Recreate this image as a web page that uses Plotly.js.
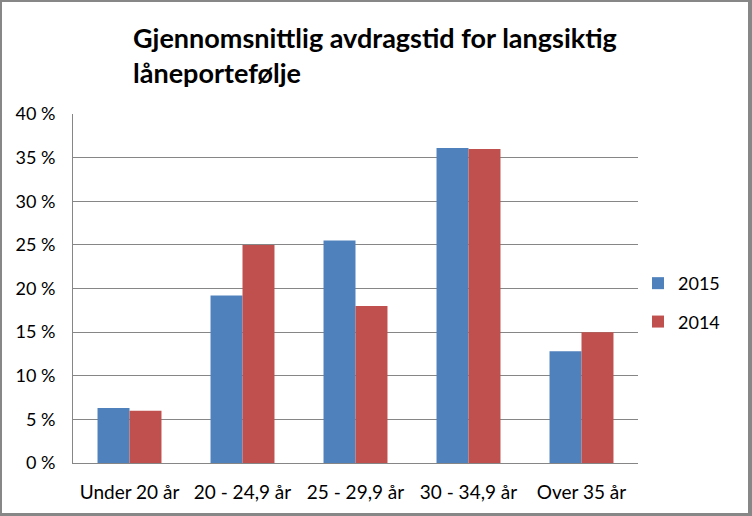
<!DOCTYPE html>
<html>
<head>
<meta charset="utf-8">
<script src="https://cdn.plot.ly/plotly-3.0.1.min.js"></script>
<style>
html,body{margin:0;padding:0;background:#fff;}
#frame{position:absolute;left:0;top:0;width:746px;height:511px;border-style:solid;border-color:#878787;border-width:2px 4px 3px 2px;}
#chart{width:746px;height:511px;}
</style>
</head>
<body>
<div id="frame"><div id="chart"></div></div>
<script>
const categories = ["Under 20 år", "20 - 24,9 år", "25 - 29,9 år", "30 - 34,9 år", "Over 35 år"];
const values2015 = [6.3, 19.2, 25.5, 36.1, 12.8];
const values2014 = [6.0, 25.0, 18.0, 36.0, 15.0];
const tickVals = [0, 5, 10, 15, 20, 25, 30, 35, 40];
const tickLabels = ["0 %", "5 %", "10 %", "15 %", "20 %", "25 %", "30 %", "35 %", "40 %"];
const titleText = "Gjennomsnittlig avdragstid for langsiktig<br>låneportefølje";

const FONT = "Lato, 'Open Sans', sans-serif";

const traces = [
  {type: "bar", name: "2015", x: categories, y: values2015, marker: {color: "#4F81BD"}, legendgroup: "a", hoverinfo: "y"},
  {type: "bar", name: "2014", x: categories, y: values2014, marker: {color: "#C0504D"}, legendgroup: "b", hoverinfo: "y"}
];

const layout = {
  width: 746, height: 511,
  margin: {l: 71, r: 110, t: 112, b: 50},
  paper_bgcolor: "#fff", plot_bgcolor: "#fff",
  font: {family: FONT, color: "#000", size: 18},
  annotations: [{
    text: titleText,
    font: {family: FONT, size: 27, color: "#000", weight: "bold"},
    xref: "paper", x: (131 - 73) / 565, xanchor: "left",
    yref: "paper", y: 1 + (114 - 19) / 349, yanchor: "top",
    align: "left", showarrow: false
  }],
  barmode: "group",
  bargap: 0.434,
  bargroupgap: 0,
  xaxis: {
    type: "category",
    showline: true, linecolor: "#868686", linewidth: 1,
    ticks: "", ticklabelstandoff: 12,
    tickfont: {family: FONT, size: 19, color: "#000"},
    showgrid: false, zeroline: false
  },
  yaxis: {
    range: [0, 40],
    tickvals: tickVals, ticktext: tickLabels,
    showline: true, linecolor: "#868686", linewidth: 1,
    ticks: "", ticklabelstandoff: 13,
    showgrid: true, gridcolor: "#868686", gridwidth: 1,
    zeroline: false,
    tickfont: {family: FONT, size: 18, color: "#000"}
  },
  showlegend: true,
  legend: {
    x: 1, xref: "paper", xanchor: "left", xshift: 14,
    y: 0.46, yanchor: "middle",
    font: {family: FONT, size: 18, color: "#000"},
    tracegroupgap: 12,
    itemwidth: 30
  }
};

Plotly.newPlot("chart", traces, layout, {displayModeBar: false, staticPlot: true});
</script>
</body>
</html>
